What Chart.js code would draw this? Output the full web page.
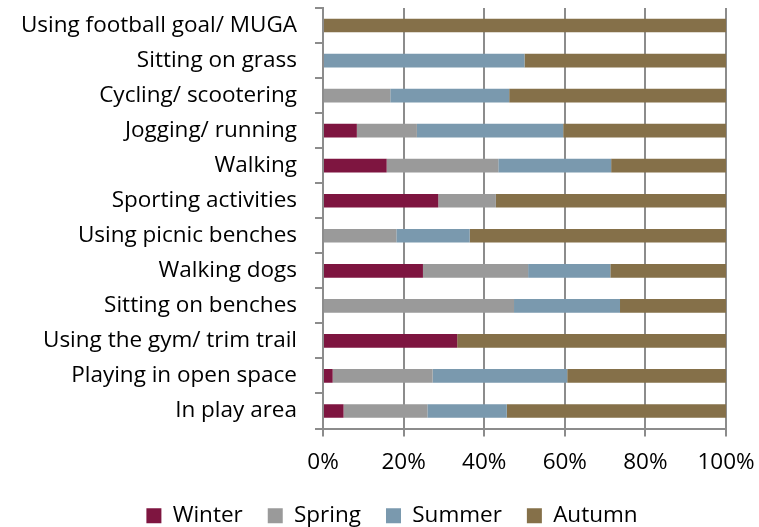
<!DOCTYPE html>
<html>
<head>
<meta charset="utf-8">
<script src="https://cdn.jsdelivr.net/npm/chart.js@4"></script>
<style>
  html, body { margin: 0; padding: 0; background: #fff; }
  #wrap { width: 759px; height: 527px; }
</style>
</head>
<body>
<div id="wrap"><canvas id="chart"></canvas></div>
<script>
const activities = [
  "Using football goal/ MUGA",
  "Sitting on grass",
  "Cycling/ scootering",
  "Jogging/ running",
  "Walking",
  "Sporting activities",
  "Using picnic benches",
  "Walking dogs",
  "Sitting on benches",
  "Using the gym/ trim trail",
  "Playing in open space",
  "In play area",
];

// percent of visits per season
const winter = [0, 0, 0, 8.4, 15.8, 28.6, 0, 24.8, 0, 33.3, 2.4, 5.1];
const spring = [0, 0, 16.7, 14.9, 27.7, 14.3, 18.2, 26.1, 47.4, 0, 24.8, 20.8];
const summer = [0, 50, 29.5, 36.3, 28.0, 0, 18.2, 20.4, 26.3, 0, 33.4, 19.7];
const autumn = [100, 50, 53.8, 40.4, 28.5, 57.1, 63.6, 28.7, 26.3, 66.7, 39.4, 54.4];

const xTicks = [0, 20, 40, 60, 80, 100];

const fontFamily = "'Open Sans', Lato, sans-serif";
const fontSize = 22.5;
const axisGrey = "#8c8c8c";

function series(label, data, color) {
  return {
    label: label,
    data: data,
    backgroundColor: color,
    borderWidth: 0,
    barPercentage: 0.39,
    categoryPercentage: 1.0,
  };
}

// legend in the original is centred a bit left of the canvas middle
const legendShift = {
  id: "legendShift",
  afterLayout(chart) {
    chart.legend.left = 58;
  },
};

const ctx = document.getElementById("chart").getContext("2d");
new Chart(ctx, {
  type: "bar",
  data: {
    labels: activities,
    datasets: [
      series("Winter", winter, "#7e1540"),
      series("Spring", spring, "#9a9a9a"),
      series("Summer", summer, "#7a99ae"),
      series("Autumn", autumn, "#857049"),
    ],
  },
  options: {
    indexAxis: "y",
    responsive: true,
    maintainAspectRatio: false,
    animation: false,
    layout: { padding: { top: 8, right: 33, left: 0, bottom: -10 } },
    plugins: {
      tooltip: { enabled: false },
      legend: {
        position: "bottom",
        labels: {
          font: { family: fontFamily, size: fontSize },
          color: "#000",
          boxWidth: 15,
          boxHeight: 15,
          padding: 25,
        },
      },
    },
    scales: {
      x: {
        stacked: true,
        min: 0,
        max: 100,
        afterBuildTicks: (scale) => {
          scale.ticks = xTicks.map((v) => ({ value: v }));
        },
        afterFit: (scale) => {
          scale.height = 51;
          scale.paddingLeft = 0;
          scale.paddingRight = 0;
        },
        ticks: {
          callback: (v) => v + "%",
          font: { family: fontFamily, size: fontSize },
          color: "#000",
          padding: 13,
          maxRotation: 0,
        },
        grid: {
          color: axisGrey,
          lineWidth: 2,
          tickLength: 8,
        },
        border: { color: axisGrey, width: 2 },
      },
      y: {
        stacked: true,
        afterFit: (scale) => {
          scale.width = 323;
          scale.paddingTop = 0;
          scale.paddingBottom = 0;
        },
        ticks: {
          font: { family: fontFamily, size: fontSize },
          color: "#000",
          padding: 18,
        },
        grid: {
          drawOnChartArea: false,
          color: axisGrey,
          lineWidth: 2,
          tickLength: 8,
        },
        border: { color: axisGrey, width: 2 },
      },
    },
  },
  plugins: [legendShift],
});
</script>
</body>
</html>
